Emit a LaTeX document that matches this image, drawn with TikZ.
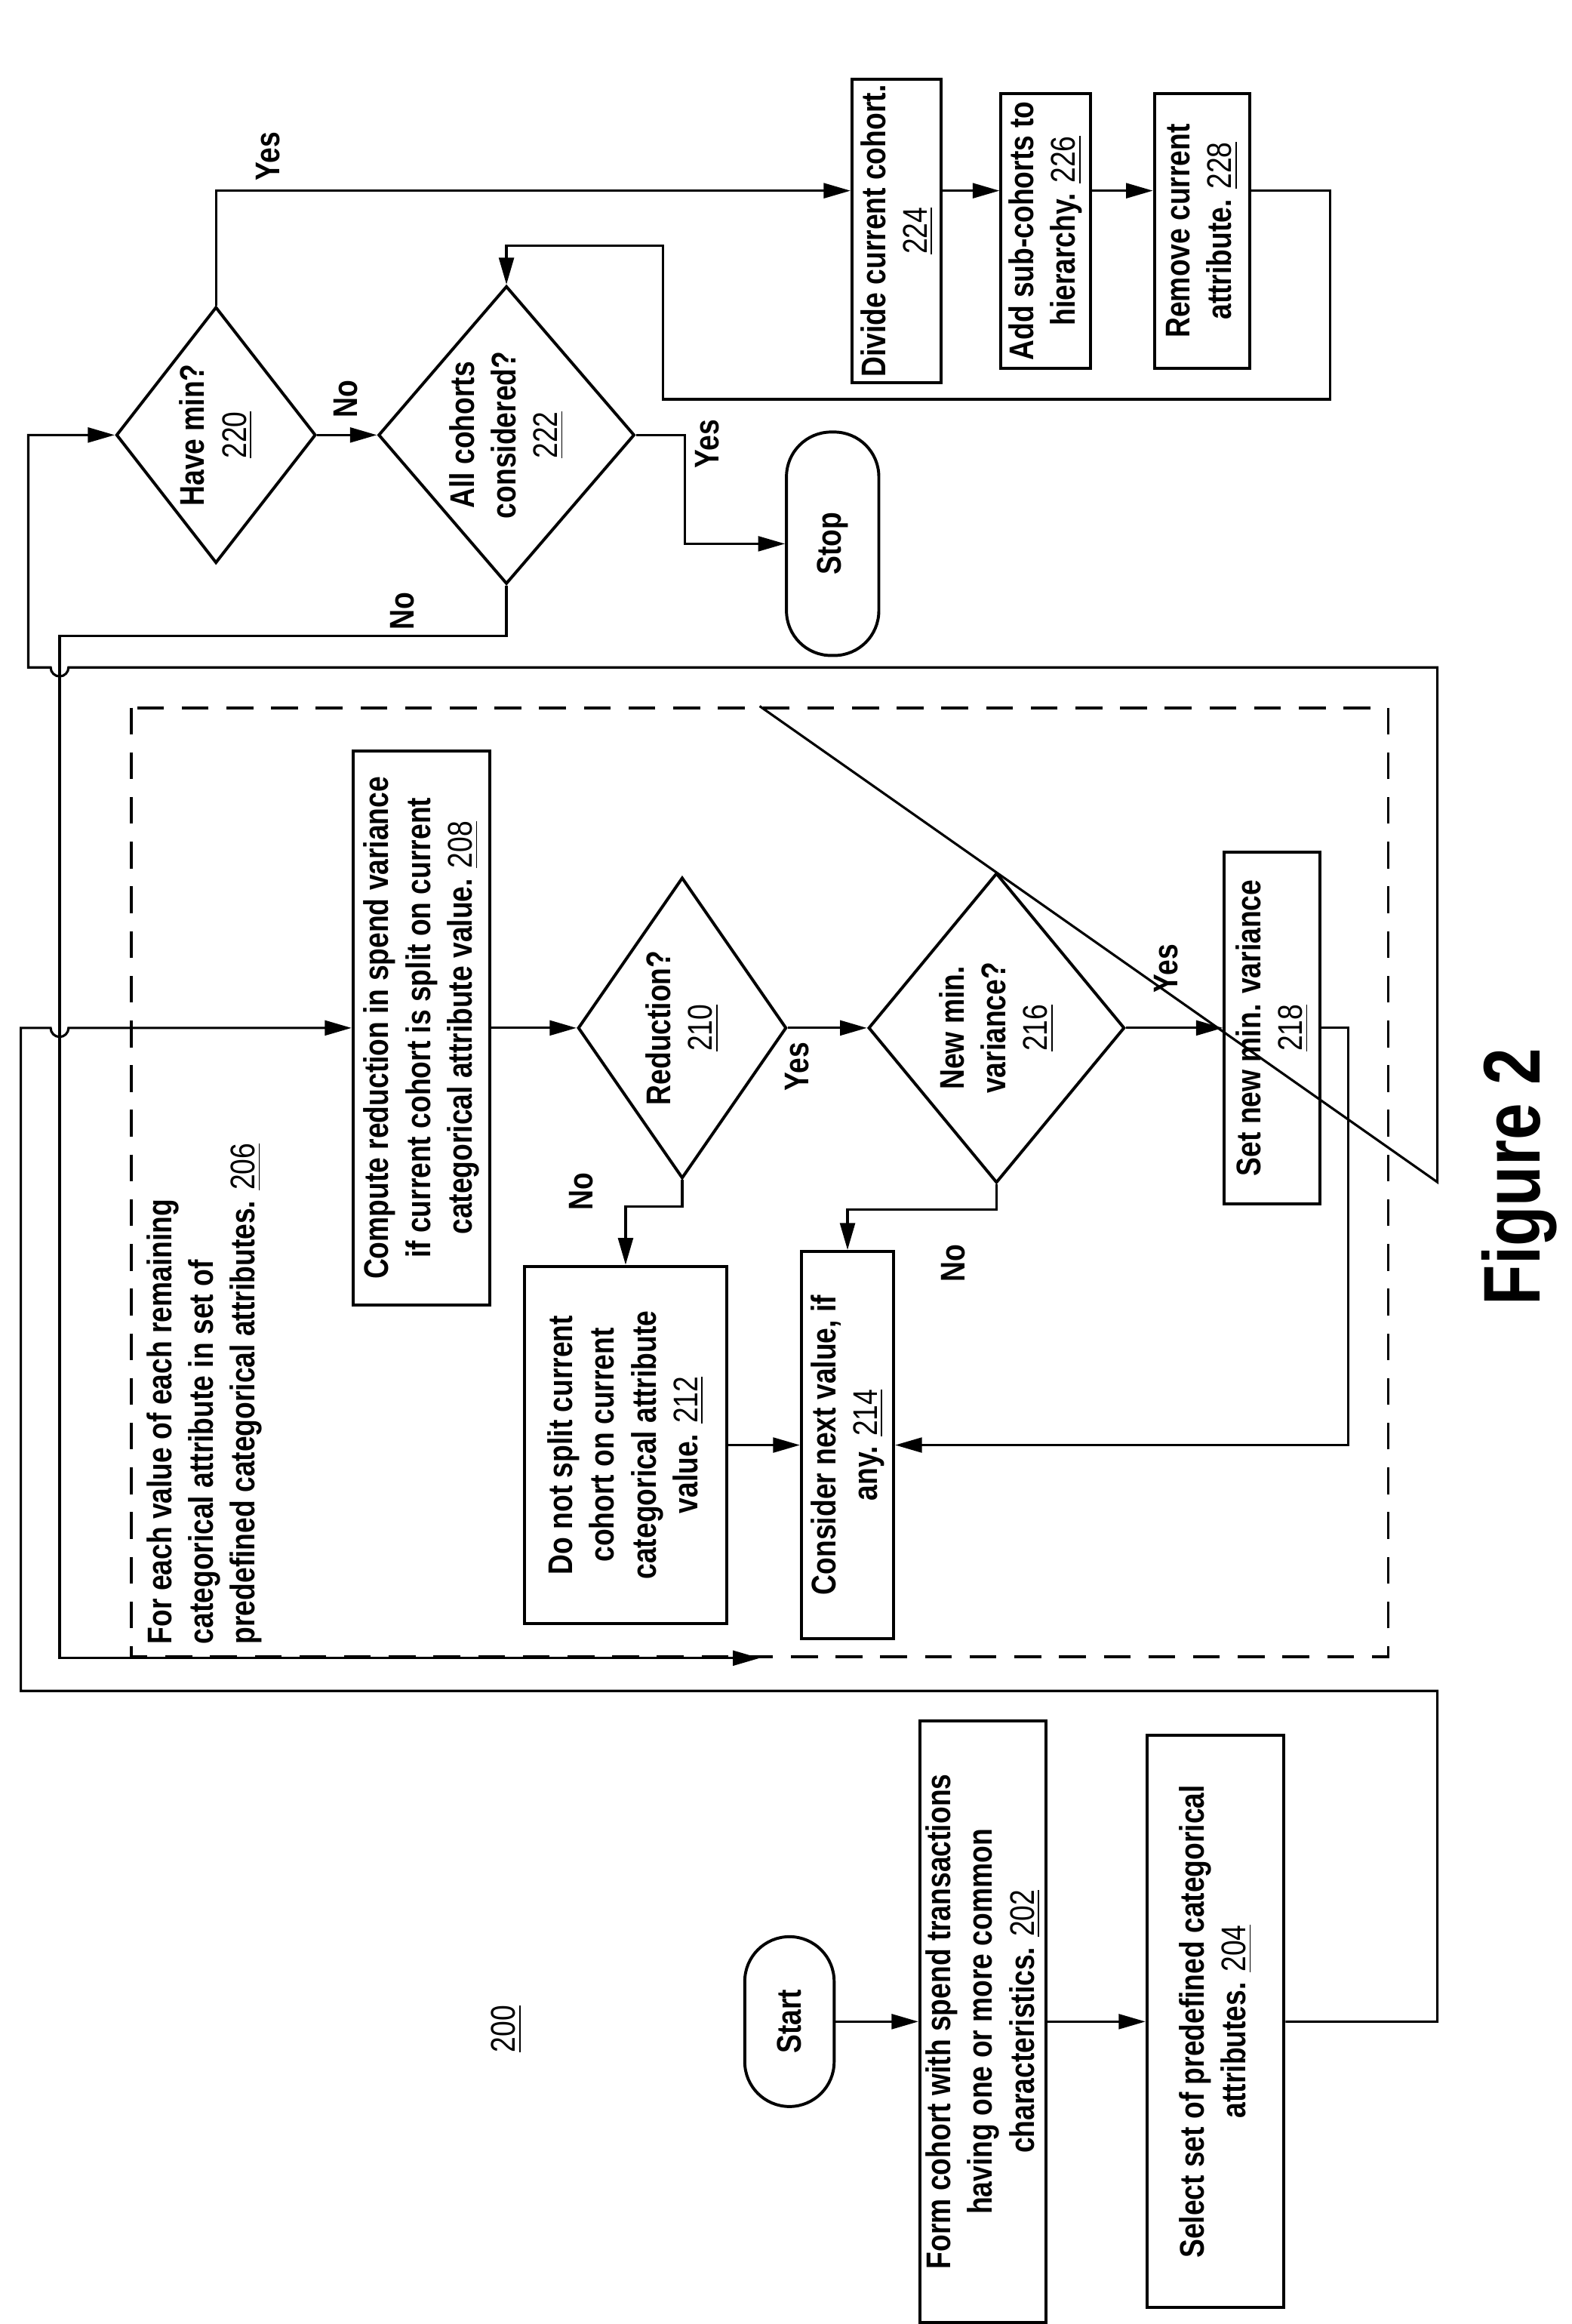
\documentclass[tikz,border=0pt]{standalone}
\usepackage{fontspec}
\setmainfont{Liberation Sans}[FakeStretch=0.82]
\usetikzlibrary{arrows.meta,shapes.geometric}
\newcommand{\refno}[1]{\textmd{\underline{#1}}}
\begin{document}
\begin{tikzpicture}[x=0.5pt,y=-0.5pt,
  box/.style={draw,line width=1pt,rotate=90,align=center,inner sep=2pt,font=\bfseries\fontsize{11.5}{14}\selectfont},
  term/.style={box,rounded corners=15pt,minimum width=57pt,minimum height=30pt},
  dec/.style={diamond,draw,line width=1pt,rotate=90,align=center,inner sep=-8pt,font=\bfseries\fontsize{11.5}{14}\selectfont},
  lbl/.style={rotate=90,font=\bfseries\fontsize{11.5}{14}\selectfont},
  arr/.style={-{Triangle[length=9pt,width=5pt]},line width=0.8pt},
  ln/.style={line width=0.8pt}]
\useasboundingbox (0,0) rectangle (1055,1560);
\coordinate (top) at (0,128);
% start column
\node[term] (start) at (530,1357) {Start};
\node[box,minimum width=202pt,minimum height=40pt] (n202) at (660,1357)
  {Form cohort with spend transactions\\having one or more common\\characteristics. \refno{202}};
\node[box,minimum width=192pt,minimum height=46pt] (n204) at (816,1357)
  {Select set of predefined categorical\\attributes. \refno{204}};
\node[lbl,font=\fontsize{11.5}{14}\selectfont] (fig) at (340,1362) {\underline{200}};
% attribute loop
\node[draw,line width=1pt,dash pattern=on 9pt off 6pt,minimum width=318.5pt,minimum height=422pt,rotate=90] (loop) at (510,793.5) {};
\node[lbl,anchor=north west,align=left,inner sep=0pt] (t206) at (98,1104)
  {For each value of each remaining\\categorical attribute in set of\\predefined categorical attributes. \refno{206}};
\node[box,minimum width=186pt,minimum height=46pt] (n208) at (283,690)
  {Compute reduction in spend variance\\if current cohort is split on current\\categorical attribute value. \refno{208}};
\node[dec,minimum width=101pt,minimum height=70pt] (d210) at (458,690) {Reduction?\\\refno{210}};
\node[dec,minimum width=104pt,minimum height=86pt] (d216) at (669,690) {New min.\\variance?\\\refno{216}};
\node[box,minimum width=118pt,minimum height=32pt] (n218) at (854,690) {Set new min. variance\\\refno{218}};
\node[box,minimum width=120pt,minimum height=68pt] (n212) at (420,970)
  {Do not split current\\cohort on current\\categorical attribute\\value. \refno{212}};
\node[box,minimum width=130pt,minimum height=31pt] (n214) at (569,970) {Consider next value, if\\any. \refno{214}};
% cohort decisions
\node[dec,minimum width=86pt,minimum height=67pt] (d220) at (145,292) {Have min?\\\refno{220}};
\node[dec,minimum width=100pt,minimum height=86pt] (d222) at (340,292) {All cohorts\\considered?\\\refno{222}};
\node[term,minimum width=75pt,minimum height=31pt] (stop) at (559,365) {Stop};
\node[box,minimum width=90pt,minimum height=30pt] (n224) at (602,155) {Divide current cohort.\\\refno{224}};
\node[box,minimum width=92pt,minimum height=30pt] (n226) at (702,155) {Add sub-cohorts to\\hierarchy. \refno{226}};
\node[box,minimum width=92pt,minimum height=32pt] (n228) at (807,155) {Remove current\\attribute. \refno{228}};
\node[lbl,font=\bfseries\fontsize{27}{30}\selectfont] (title) at (1020,790) {Figure 2};
% labels
\node[lbl] (y220) at (180,105) {Yes};
\node[lbl] (n220) at (232,268) {No};
\node[lbl] (y222) at (475,298) {Yes};
\node[lbl] (n222) at (270,410) {No};
\node[lbl] (n210) at (390,800) {No};
\node[lbl] (y210) at (535,716) {Yes};
\node[lbl] (y216) at (783,650) {Yes};
\node[lbl] (n216) at (640,848) {No};
% connectors
\draw[arr] (start) -- (n202);
\draw[arr] (n202) -- (n204);
\draw[arr] (n204.south) -- (965,1357) -- (965,1135) -- (14,1135) -- (14,690) -- (34,690)
  arc[start angle=180,end angle=0,radius=6] -- (n208.north);
\draw[arr] (n208) -- (d210);
\draw[arr] (d210) -- (d216);
\draw[arr] (d210.west) -- (458,810) -| (n212.east);
\draw[arr] (d216.west) -- (669,812) -| (n214.east);
\draw[arr] (d216) -- (n218);
\draw[arr] (n218.south) -- (905,690) |- (n214.south);
\draw[arr] (n212) -- (n214);
\draw[arr] (loop.east) -- (965,793.5) -- (965,448) -- (46,448)
  arc[start angle=0,end angle=180,radius=6] -- (19,448) |- (d220.north);
\draw[arr] (d222.west) |- (40,427) |- (loop.west);
\draw[arr] (d220) -- (d222);
\draw[arr] (d220.east) |- (top -| n224.north);
\draw[arr] (top -| n224.south) -- (top -| n226.north);
\draw[arr] (top -| n226.south) -- (top -| n228.north);
\draw[arr] (top -| n228.south) -- (893,128) -- (893,268) -- (445,268) -- (445,165) -| (d222.east);
\draw[arr] (d222.south) -- (460,292) |- (stop);
\end{tikzpicture}
\end{document}
